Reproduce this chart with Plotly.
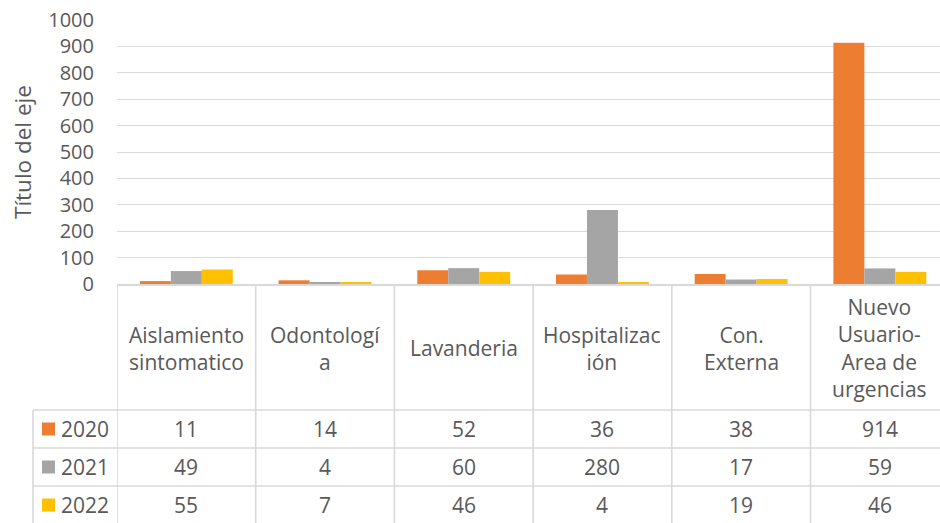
import plotly.graph_objects as go

categories = ["Aislamiento sintomatico", "Odontología", "Lavanderia", "Hospitalización", "Con. Externa", "Nuevo Usuario-Area de urgencias"]
header_labels = ["Aislamiento<br>sintomatico", "Odontologí<br>a", "Lavanderia", "Hospitalizac<br>ión", "Con.<br>Externa", "Nuevo<br>Usuario-<br>Area de<br>urgencias"]
series_names = ["2020", "2021", "2022"]
values_2020 = [11, 14, 52, 36, 38, 914]
values_2021 = [49, 4, 60, 280, 17, 59]
values_2022 = [55, 7, 46, 4, 19, 46]
colors = ["#ED7D31", "#A5A5A5", "#FFC000"]
y_ticks = [0, 100, 200, 300, 400, 500, 600, 700, 800, 900, 1000]

series_values = [values_2020, values_2021, values_2022]
TXT = "#595959"
GRID = "#D9D9D9"
FONT = "Open Sans"

W, H = 940, 523
ML, MR, MT, MB = 117, 0, 20, 239
PW = W - ML - MR
PH = H - MT - MB


def py(px):  # pixel y -> paper y
    return (H - MB - px) / PH


def pxx(px):  # pixel x -> paper x
    return (px - ML) / PW


fig = go.Figure()
for name, vals, col in zip(series_names, series_values, colors):
    fig.add_trace(go.Bar(x=list(range(len(categories))), y=vals, name=name,
                         marker=dict(color=col, line=dict(width=0)),
                         hovertext=categories, showlegend=False))

n = len(categories)
shapes = []
annotations = []

# table: vertical lines at category boundaries
for i in range(n):
    shapes.append(dict(type="line", xref="x", yref="paper", x0=i - 0.5, x1=i - 0.5,
                       y0=0, y1=py(530), line=dict(color=GRID, width=1.6)))
# left border of legend column
shapes.append(dict(type="line", xref="paper", yref="paper", x0=pxx(33), x1=pxx(33),
                   y0=py(410), y1=py(530), line=dict(color=GRID, width=1.6)))
# horizontal row lines
for yy in [410, 448, 486]:
    shapes.append(dict(type="line", xref="paper", yref="paper", x0=pxx(33), x1=1.02,
                       y0=py(yy), y1=py(yy), line=dict(color=GRID, width=1.6)))

# header labels
for i, lab in enumerate(header_labels):
    annotations.append(dict(x=i, xref="x", y=py(348), yref="paper", text=lab,
                            showarrow=False, xanchor="center", yanchor="middle",
                            font=dict(family=FONT, size=21, color=TXT)))

row_centers = [429, 467, 505]
for r, (name, vals, col) in enumerate(zip(series_names, series_values, colors)):
    yc = row_centers[r]
    shapes.append(dict(type="rect", xref="paper", yref="paper", x0=pxx(42), x1=pxx(55),
                       y0=py(yc + 6.5), y1=py(yc - 6.5), fillcolor=col, line=dict(width=0)))
    annotations.append(dict(x=pxx(59), xref="paper", y=py(yc), yref="paper", text=name,
                            showarrow=False, xanchor="left", yanchor="middle",
                            font=dict(family=FONT, size=21, color=TXT)))
    for i, v in enumerate(vals):
        annotations.append(dict(x=i, xref="x", y=py(yc), yref="paper", text=str(v),
                                showarrow=False, xanchor="center", yanchor="middle",
                                font=dict(family=FONT, size=21, color=TXT)))

# axis title
annotations.append(dict(x=pxx(22), xref="paper", y=0.5, yref="paper", text="Título del eje",
                        textangle=-90, showarrow=False, xanchor="center", yanchor="middle",
                        font=dict(family=FONT, size=22.5, color=TXT)))

fig.update_layout(
    width=W, height=H,
    margin=dict(l=ML, r=MR, t=MT, b=MB),
    paper_bgcolor="white", plot_bgcolor="white",
    barmode="group", bargap=0.33, bargroupgap=0,
    shapes=shapes, annotations=annotations,
    font=dict(family=FONT, color=TXT),
    xaxis=dict(range=[-0.5, -0.5 + PW / 138.7], showticklabels=False, showgrid=False,
               zeroline=False, showline=True, linecolor=GRID, linewidth=1.6, ticks=""),
    yaxis=dict(range=[0, 1000], tickvals=y_ticks, showgrid=True, gridcolor=GRID, gridwidth=1.3,
               zeroline=False, showline=False, ticks="", ticklabelstandoff=22,
               tickfont=dict(family=FONT, size=20, color=TXT)),
)

fig.write_html("out.html", config={"displayModeBar": False},
               post_script="document.body.style.margin='0px';document.body.style.overflow='hidden';")
